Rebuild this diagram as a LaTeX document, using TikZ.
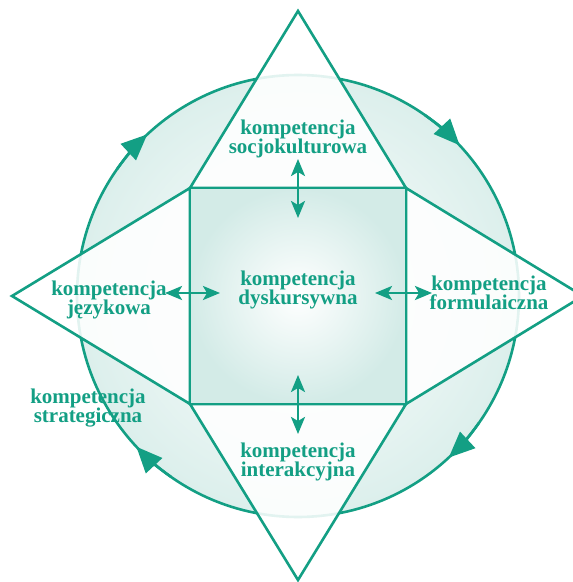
\documentclass[tikz,border=0pt]{standalone}
\usepackage{fontspec}
\setmainfont{Liberation Serif}
\usepackage{xcolor}
\usepackage{tikz}
\usetikzlibrary{arrows.meta}
\definecolor{kteal}{HTML}{139F84}
\definecolor{kpale}{HTML}{D3EBE7}
\tikzset{
  lbl/.style    = {align=center, text=kteal, inner sep=1pt,
                   font=\fontsize{21}{19.5}\selectfont\bfseries},
  frame/.style  = {draw=kteal, line width=2.6pt, line join=miter},
  tri/.style    = {frame, fill=white, fill opacity=0.88},
  darr/.style   = {{Stealth[length=17pt,width=14pt,inset=4pt]}-{Stealth[length=17pt,width=14pt,inset=4pt]},
                   draw=kteal, line width=2.6pt},
  circarr/.style= {-{Triangle[length=26pt,width=22pt]}, draw=kteal, line width=2.6pt},
}
\newcommand\komp[3]{\node[lbl] (#1) at (#2) {kompetencja\\#3};}

\begin{document}
\begin{tikzpicture}[x=1pt, y=1pt]
  \useasboundingbox (-298,-286) rectangle (275,296);
  \clip (-298,-286) rectangle (275,296);
  \coordinate (c) at (0,0);

  % ring
  \shade[inner color=white, outer color=kpale!80] (c) circle[radius=221];
  \draw[kteal, line width=2.6pt] (c) circle[radius=221];
  \foreach \a in {133,43,-47,-137}
    \draw[circarr] (\a+12:221) arc[start angle=\a+12, end angle=\a, radius=221];

  % square and the four triangles
  \coordinate (nw) at (-108,108);
  \coordinate (ne) at (108,108);
  \coordinate (se) at (108,-108);
  \coordinate (sw) at (-108,-108);
  \coordinate (top) at (0,285);
  \coordinate (bot) at (0,-284);
  \coordinate (lft) at (-286,0);
  \coordinate (rgt) at (285,0);
  \draw[tri] (nw) -- (top) -- (ne) -- cycle;
  \draw[tri] (ne) -- (rgt) -- (se) -- cycle;
  \draw[tri] (se) -- (bot) -- (sw) -- cycle;
  \draw[tri] (sw) -- (lft) -- (nw) -- cycle;
  \shade[inner color=white, outer color=kpale] (nw) rectangle (se);
  \draw[frame] (nw) rectangle (se);

  % labels
  \komp{socjo}{0,157}{socjokulturowa}
  \komp{dysk}{0,6}{dyskursywna}
  \komp{jez}{-189,-4}{językowa}
  \komp{form}{191,3}{formulaiczna}
  \komp{strat}{-210,-112}{strategiczna}
  \komp{inter}{0,-166}{interakcyjna}

  % links to the centre
  \coordinate (t1) at (0,137);  \coordinate (t2) at (0,78);
  \coordinate (b1) at (0,-79);  \coordinate (b2) at (0,-138);
  \coordinate (l1) at (-133,3); \coordinate (l2) at (-78,3);
  \coordinate (r1) at (77,3);   \coordinate (r2) at (134,3);
  \draw[darr] (t1) -- (t2);
  \draw[darr] (b1) -- (b2);
  \draw[darr] (l1) -- (l2);
  \draw[darr] (r1) -- (r2);
\end{tikzpicture}
\end{document}
